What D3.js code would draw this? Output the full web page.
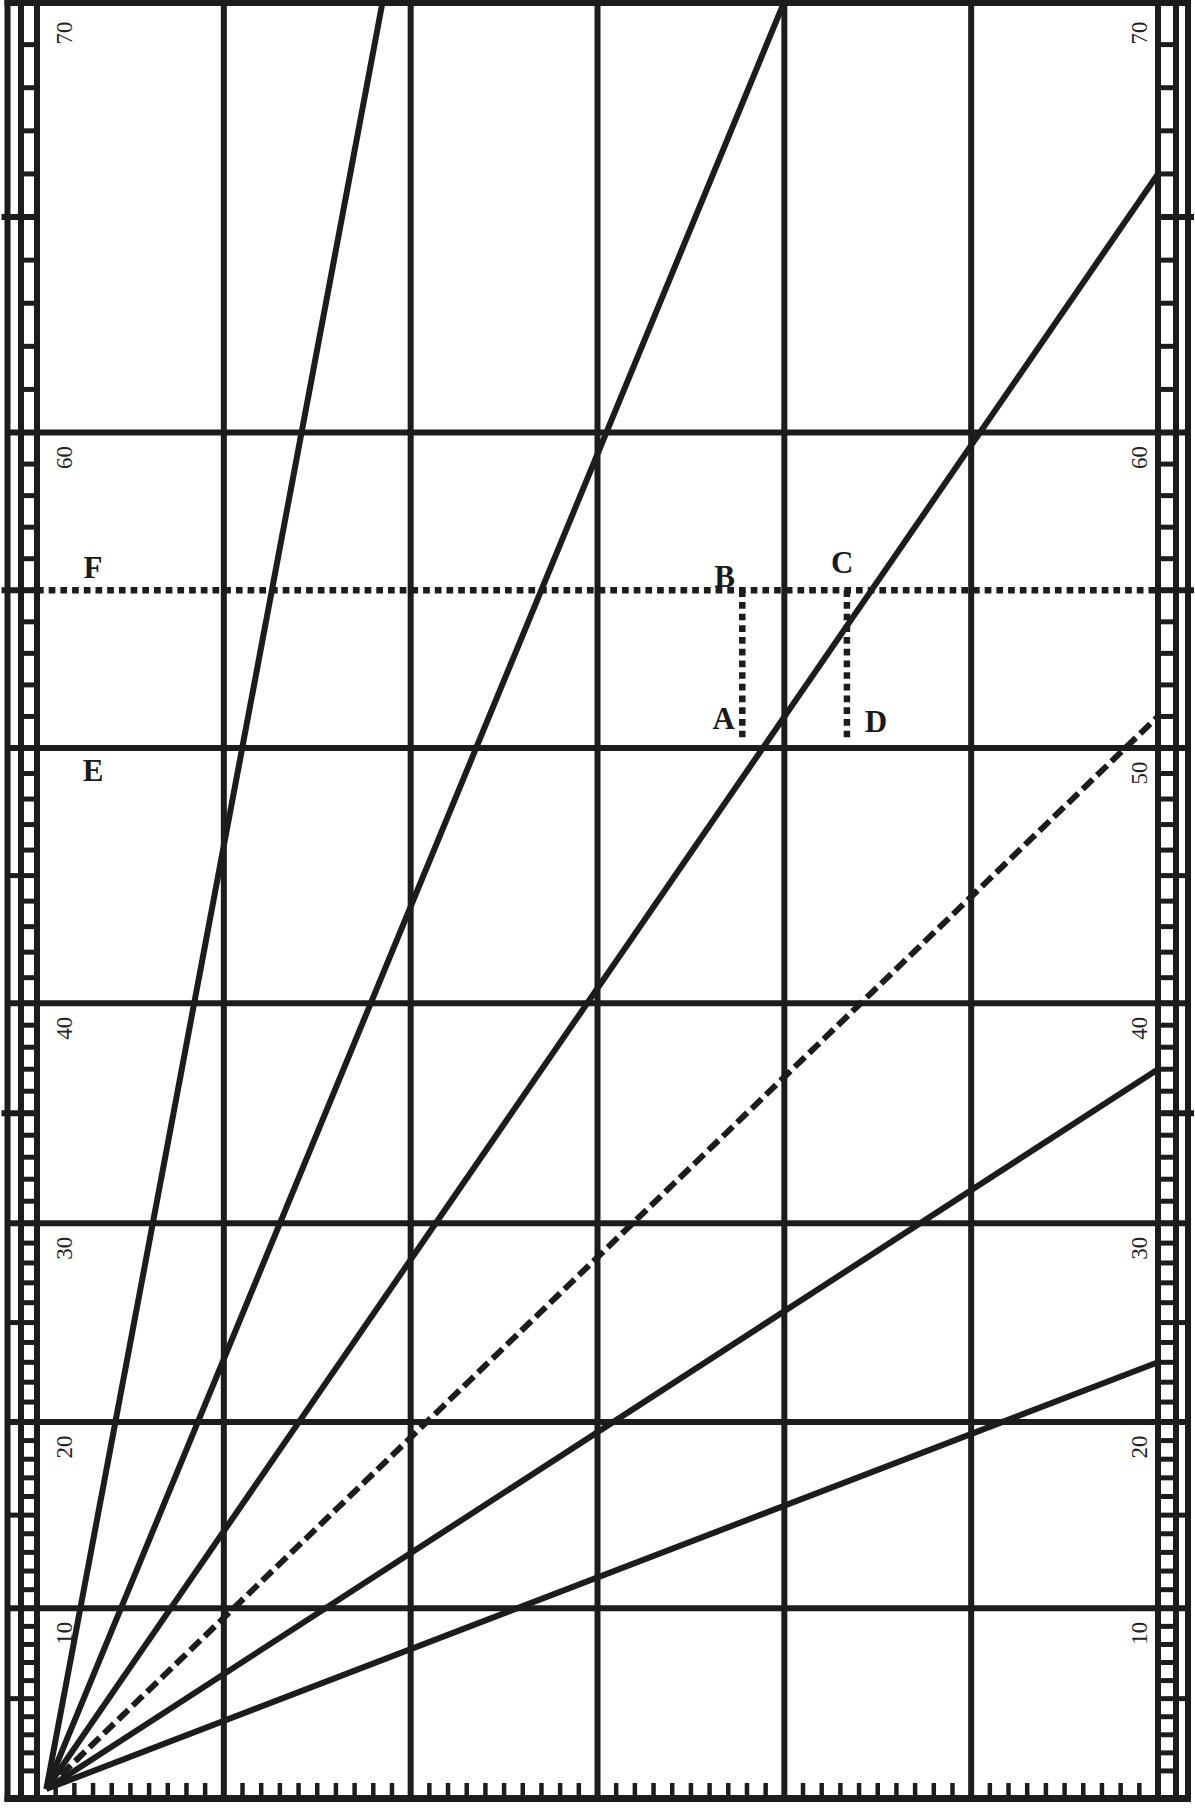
<!DOCTYPE html>
<html>
<head>
<meta charset="utf-8">
<script src="https://cdnjs.cloudflare.com/ajax/libs/d3/7.8.5/d3.min.js"></script>
<style>
  body { margin: 0; background: #fff; }
  .scale-text { font-family: "Liberation Serif", "DejaVu Serif", serif; font-size: 23px; fill: #222; }
  .point-text { font-family: "Liberation Serif", "DejaVu Serif", serif; font-size: 31px; font-weight: bold; fill: #1a1a1a; }
</style>
</head>
<body>
<div id="chart"></div>
<script>
// Latitude lines (degrees) and the numbers written on each edge
let latGrid = [0, 10, 20, 30, 40, 50, 60, 70];
let leftLabels = [10, 20, 30, 40, 60, 70];
let rightLabels = [10, 20, 30, 40, 50, 60, 70];

// Meridians drawn across the chart (degrees of longitude)
let lonGrid = [10, 20, 30, 40, 50];

// Five degree marks on the side rulers, the long ones stick out of the frame
let halfMarks = [5, 15, 25, 45];
let longMarks = [35, 55, 65];

// Rhumb lines, all leaving the same point, end points
let originLon = 0.5;
let originLat = 0;
let courses = ["N by E", "NNE", "NE by N", "NE", "NE by E", "ENE"];
let courseLon = [18.5, 40, 60, 60, 60, 60];
let courseLat = [70, 70, 66, 51, 37, 23];

// Parallel F and the dotted meridians B-A and C-D
let parallelF = 55;
let legLon = [37.75, 43.35];
let legLatFrom = [55, 55];
let legLatTo = [50.3, 50.3];

// Letters placed on the chart
let letters = ["F", "E", "B", "C", "A", "D"];
let letterLon = [3.0, 3.0, 36.8, 43.1, 36.75, 44.9];
let letterLat = [55.4, 48.7, 55.1, 55.55, 50.6, 50.5];

let svgWidth = 1195;
let svgHeight = 1818;
let ink = "#1c1c1c";

let svg = d3.select("#chart")
    .append("svg")
    .attr("width", svgWidth)
    .attr("height", svgHeight)
    .style("display", "block");

svg.append("rect")
    .attr("width", svgWidth)
    .attr("height", svgHeight)
    .attr("fill", "#fff");

// x: longitude, y: Mercator meridional parts, straight between the ten degree lines
function merc(lat) {
    return Math.log(Math.tan(Math.PI / 4 + lat * Math.PI / 360));
}

let xScale = d3.scaleLinear()
    .domain([0, 60])
    .range([37, 1158]);

let yScale = d3.scaleLinear()
    .domain(latGrid)
    .range(latGrid.map(d => 1789 - 1030 * merc(d)));

// frame geometry
let leftInner = xScale(0);
let leftMiddle = leftInner - 16;
let leftOuter = leftInner - 29.5;
let rightInner = xScale(60);
let rightMiddle = rightInner + 18;
let rightOuter = rightInner + 30;
let topY = 3;
let bottomY = yScale(0) + 9.5;

let chart = svg.append("g");

// ruler rungs, one per degree
let degrees = d3.range(1, 70);
chart.append("g")
    .selectAll("line")
    .data(degrees)
    .join("line")
    .attr("x1", leftMiddle)
    .attr("x2", leftInner)
    .attr("y1", d => yScale(d))
    .attr("y2", d => yScale(d))
    .attr("stroke", ink)
    .attr("stroke-width", 5);

chart.append("g")
    .selectAll("line")
    .data(degrees)
    .join("line")
    .attr("x1", rightInner)
    .attr("x2", rightMiddle)
    .attr("y1", d => yScale(d))
    .attr("y2", d => yScale(d))
    .attr("stroke", ink)
    .attr("stroke-width", 5);

// bars across the gap of the ruler every five degrees
chart.append("g")
    .selectAll("line")
    .data(halfMarks.concat(halfMarks))
    .join("line")
    .attr("x1", (d, i) => i < halfMarks.length ? leftOuter : rightMiddle)
    .attr("x2", (d, i) => i < halfMarks.length ? leftMiddle : rightOuter)
    .attr("y1", d => yScale(d))
    .attr("y2", d => yScale(d))
    .attr("stroke", ink)
    .attr("stroke-width", 5);

chart.append("g")
    .selectAll("line")
    .data(longMarks.concat(longMarks))
    .join("line")
    .attr("x1", (d, i) => i < longMarks.length ? leftOuter - 6 : rightInner)
    .attr("x2", (d, i) => i < longMarks.length ? leftInner : rightOuter + 6)
    .attr("y1", d => yScale(d))
    .attr("y2", d => yScale(d))
    .attr("stroke", ink)
    .attr("stroke-width", 6);

// ten degree parallels, edge to edge
chart.append("g")
    .selectAll("line")
    .data(latGrid.filter(d => d > 0 && d < 70))
    .join("line")
    .attr("x1", leftOuter)
    .attr("x2", rightOuter)
    .attr("y1", d => yScale(d))
    .attr("y2", d => yScale(d))
    .attr("stroke", ink)
    .attr("stroke-width", 6);

// meridians
chart.append("g")
    .selectAll("line")
    .data(lonGrid)
    .join("line")
    .attr("x1", d => xScale(d))
    .attr("x2", d => xScale(d))
    .attr("y1", topY)
    .attr("y2", bottomY)
    .attr("stroke", ink)
    .attr("stroke-width", 6);

// ruler rails
let rails = [leftOuter, leftMiddle, leftInner, rightInner, rightMiddle, rightOuter];
chart.append("g")
    .selectAll("line")
    .data(rails)
    .join("line")
    .attr("x1", d => d)
    .attr("x2", d => d)
    .attr("y1", 0)
    .attr("y2", bottomY + 3.5)
    .attr("stroke", ink)
    .attr("stroke-width", 6);

// top and bottom edges
chart.append("line")
    .attr("x1", leftOuter - 3)
    .attr("x2", rightOuter + 3)
    .attr("y1", topY)
    .attr("y2", topY)
    .attr("stroke", ink)
    .attr("stroke-width", 6);

chart.append("line")
    .attr("x1", leftOuter - 3)
    .attr("x2", rightOuter + 3)
    .attr("y1", bottomY)
    .attr("y2", bottomY)
    .attr("stroke", ink)
    .attr("stroke-width", 7);

// degree ticks along the bottom
chart.append("g")
    .selectAll("line")
    .data(d3.range(1, 60).filter(d => d % 10 !== 0))
    .join("line")
    .attr("x1", d => xScale(d))
    .attr("x2", d => xScale(d))
    .attr("y1", bottomY - 3)
    .attr("y2", bottomY - 15.5)
    .attr("stroke", ink)
    .attr("stroke-width", 4.5);

// rhumb lines
chart.append("g")
    .selectAll("line")
    .data(courses)
    .join("line")
    .attr("x1", xScale(originLon))
    .attr("y1", yScale(originLat))
    .attr("x2", (d, i) => xScale(courseLon[i]))
    .attr("y2", (d, i) => yScale(courseLat[i]))
    .attr("stroke", ink)
    .attr("stroke-width", 6)
    .attr("stroke-dasharray", d => d === "NE" ? "14,6" : null);

// parallel F, dotted
chart.append("line")
    .attr("x1", xScale(0))
    .attr("x2", xScale(60))
    .attr("y1", yScale(parallelF))
    .attr("y2", yScale(parallelF))
    .attr("stroke", ink)
    .attr("stroke-width", 6.5)
    .attr("stroke-dasharray", "6.7,5");

// meridians B-A and C-D, dotted
chart.append("g")
    .selectAll("line")
    .data(legLon)
    .join("line")
    .attr("x1", d => xScale(d))
    .attr("x2", d => xScale(d))
    .attr("y1", (d, i) => yScale(legLatFrom[i]))
    .attr("y2", (d, i) => yScale(legLatTo[i]))
    .attr("stroke", ink)
    .attr("stroke-width", 6.5)
    .attr("stroke-dasharray", "6.7,5");

// latitude numbers, turned to read upward
chart.append("g")
    .selectAll("text")
    .data(leftLabels)
    .join("text")
    .attr("class", "scale-text")
    .attr("transform", d => `translate(${leftInner + 27}, ${Math.max(yScale(d), 8) + 25}) rotate(-90)`)
    .attr("text-anchor", "middle")
    .attr("dy", "0.35em")
    .text(d => d);

chart.append("g")
    .selectAll("text")
    .data(rightLabels)
    .join("text")
    .attr("class", "scale-text")
    .attr("transform", d => `translate(${rightInner - 19}, ${Math.max(yScale(d), 8) + 25}) rotate(-90)`)
    .attr("text-anchor", "middle")
    .attr("dy", "0.35em")
    .text(d => d);

// letters
chart.append("g")
    .selectAll("text")
    .data(letters)
    .join("text")
    .attr("class", "point-text")
    .attr("x", (d, i) => xScale(letterLon[i]))
    .attr("y", (d, i) => yScale(letterLat[i]))
    .attr("text-anchor", "middle")
    .text(d => d);
</script>
</body>
</html>
